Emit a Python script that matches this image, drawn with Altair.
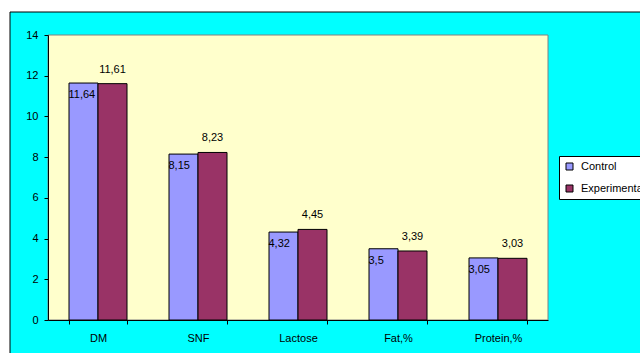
import altair as alt
import pandas as pd

# Milk composition indicators, two feeding groups
categories = ["DM", "SNF", "Lactose", "Fat,%", "Protein,%"]
control = [11.64, 8.15, 4.32, 3.5, 3.05]
experimental = [11.61, 8.23, 4.45, 3.39, 3.03]
series = ["Control", "Experimental"]
colors = ["#9999FF", "#993366"]
y_ticks = [0, 2, 4, 6, 8, 10, 12, 14]

rows = []
for cat, a, b in zip(categories, control, experimental):
    rows.append({"Indicator": cat, "Group": series[0], "Value": a})
    rows.append({"Indicator": cat, "Group": series[1], "Value": b})
df = pd.DataFrame(rows)

W, H = 500, 285
FONT = "Liberation Sans"

one = pd.DataFrame({"k": [0]})

# cyan frame behind the whole chart
frame = alt.Chart(one).mark_rect(fill="#00FFFF", stroke="black", strokeWidth=1).encode(
    x=alt.value(-38), x2=alt.value(W + 200), y=alt.value(-23), y2=alt.value(H + 100)
)

# pale yellow plot area with grey border
plot_bg = alt.Chart(one).mark_rect(fill="#FFFFCC", stroke="#808080", strokeWidth=1).encode(
    x=alt.value(0), x2=alt.value(W), y=alt.value(0), y2=alt.value(H)
)

x_enc = alt.X(
    "Indicator:N",
    sort=categories,
    scale=alt.Scale(paddingInner=0.42, paddingOuter=0.21),
    axis=alt.Axis(
        title=None, labelAngle=0, tickBand="extent", tickSize=4,
        labelPadding=8, domainColor="black", tickColor="black", zindex=2,
        labelFont=FONT, labelFontSize=11, labelColor="black",
    ),
)
xoff_enc = alt.XOffset("Group:N", sort=series, scale=alt.Scale(domain=series, paddingInner=0, paddingOuter=0))
y_enc = alt.Y(
    "Value:Q",
    scale=alt.Scale(domain=[0, 14], nice=False),
    axis=alt.Axis(
        title=None, values=y_ticks, grid=False, tickSize=4, labelPadding=6,
        domainColor="black", tickColor="black", zindex=2,
        labelFont=FONT, labelFontSize=11, labelColor="black",
    ),
)

bars = alt.Chart(df).mark_bar(stroke="black", strokeWidth=1).encode(
    x=x_enc,
    xOffset=xoff_enc,
    y=y_enc,
    color=alt.Color(
        "Group:N",
        scale=alt.Scale(domain=series, range=colors),
        legend=alt.Legend(
            title=None, orient="none", legendX=511, legendY=121,
            fillColor="white", strokeColor="black", padding=5,
            symbolType="square", symbolSize=49, symbolStrokeColor="black",
            symbolStrokeWidth=1, labelFontSize=11, labelFont=FONT,
            labelColor="black", labelOffset=6, rowPadding=10,
        ),
    ),
)

label_expr = "replace(toString(datum.Value), '.', ',')"

ctrl_labels = alt.Chart(df).transform_filter(
    alt.datum.Group == series[0]
).transform_calculate(lab=label_expr).mark_text(
    align="left", baseline="middle", dx=-15, dy=12, fontSize=11, font=FONT, color="black"
).encode(x=x_enc, xOffset=xoff_enc, y=y_enc, text="lab:N")

exp_labels = alt.Chart(df).transform_filter(
    alt.datum.Group == series[1]
).transform_calculate(lab=label_expr).mark_text(
    align="center", baseline="middle", dy=-14, fontSize=11, font=FONT, color="black"
).encode(x=x_enc, xOffset=xoff_enc, y=y_enc, text="lab:N")

chart = alt.layer(frame, plot_bg, bars, ctrl_labels, exp_labels).properties(
    width=W, height=H,
    autosize=alt.AutoSizeParams(type="none"),
    padding={"left": 48, "top": 35, "right": 92, "bottom": 33},
    background="white",
).configure_view(stroke=None)

chart.save("out.html", embed_options={"renderer": "svg", "actions": False})
